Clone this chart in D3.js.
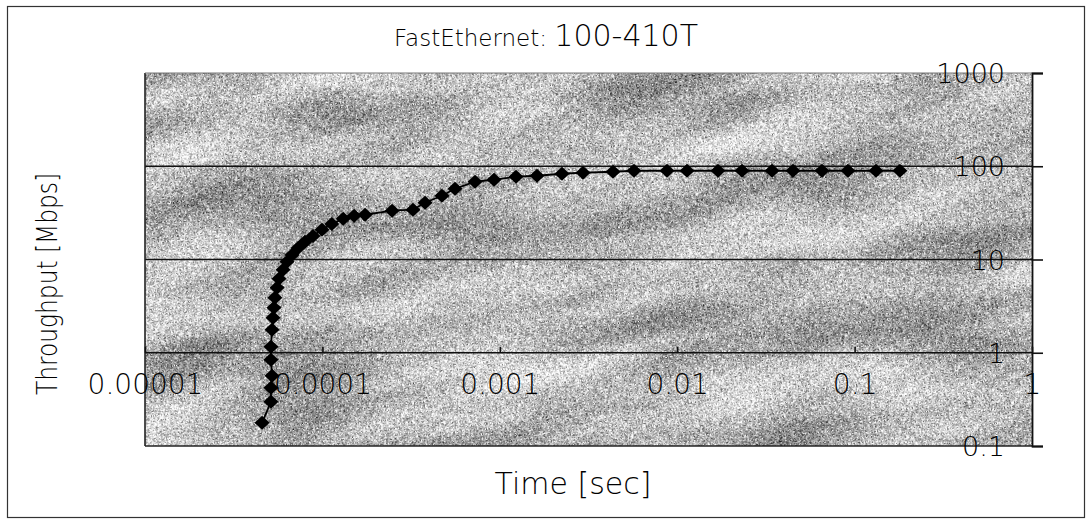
<!DOCTYPE html>
<html>
<head>
<meta charset="utf-8">
<script src="https://cdn.jsdelivr.net/npm/d3@7"></script>
<style>
  html, body { margin: 0; padding: 0; background: #fff; }
  svg { display: block; }
  text { font-family: "DejaVu Sans", "Liberation Sans", sans-serif; fill: #000; font-weight: 200; }
</style>
</head>
<body>
<svg id="chart" width="1091" height="525"></svg>
<script>
// Message transfer time vs. measured throughput, FastEthernet 100-410T
const timeSec = [
  4.57e-5, 5.13e-5, 5.13e-5, 5.20e-5, 5.13e-5, 5.13e-5, 5.20e-5, 5.27e-5,
  5.33e-5, 5.40e-5, 5.55e-5, 5.69e-5, 6.00e-5, 6.32e-5, 6.74e-5, 7.29e-5,
  7.98e-5, 8.85e-5, 9.95e-5, 1.13e-4, 1.31e-4, 1.51e-4, 1.74e-4, 2.47e-4,
  3.24e-4, 3.79e-4, 4.72e-4, 5.59e-4, 7.25e-4, 9.28e-4, 1.234e-3, 1.621e-3,
  2.242e-3, 2.944e-3, 4.346e-3, 5.708e-3, 8.76e-3, 1.136e-2, 1.698e-2, 2.319e-2,
  3.423e-2, 4.496e-2, 6.549e-2, 9.18e-2, 0.132, 0.180
];
const throughputMbps = [
  0.178, 0.298, 0.422, 0.567, 0.841, 1.16, 1.76, 2.37,
  3.04, 3.89, 4.97, 6.21, 7.76, 9.45, 11.2, 13.3,
  15.5, 17.9, 20.8, 24.1, 27.3, 29.4, 30.2, 33.4,
  34.2, 40.6, 48.3, 57.4, 68.2, 71.7, 77.2, 79.1,
  83.1, 85.2, 87.3, 89.5, 89.5, 89.5, 89.5, 89.5,
  89.5, 89.5, 89.5, 89.5, 89.5, 89.5
];
const xTicks = [1e-5, 1e-4, 1e-3, 1e-2, 1e-1, 1];
const xTickLabels = ["0.00001", "0.0001", "0.001", "0.01", "0.1", "1"];
const yTicks = [0.1, 1, 10, 100, 1000];
const yTickLabels = ["0.1", "1", "10", "100", "1000"];
const gridValues = [1, 10, 100];

const svg = d3.select("#chart");
const plot = { left: 145, right: 1032, top: 73, bottom: 446 };

const x = d3.scaleLog().domain([1e-5, 1]).range([plot.left, plot.right]);
const y = d3.scaleLog().domain([0.1, 1000]).range([plot.bottom, plot.top]);

const defs = svg.append("defs");

// grainy granite-like fill for the plot area
const f = defs.append("filter").attr("id", "granite")
  .attr("x", 0).attr("y", 0).attr("width", 1).attr("height", 1)
  .attr("filterUnits", "objectBoundingBox")
  .attr("color-interpolation-filters", "sRGB");
f.append("feTurbulence").attr("type", "fractalNoise")
  .attr("baseFrequency", "0.005 0.02").attr("numOctaves", 2).attr("seed", 7).attr("result", "lowRaw");
f.append("feColorMatrix").attr("in", "lowRaw").attr("type", "matrix")
  .attr("values", "1 0 0 0 0  1 0 0 0 0  1 0 0 0 0  0 0 0 0 1").attr("result", "low");
f.append("feTurbulence").attr("type", "fractalNoise")
  .attr("baseFrequency", "2.3").attr("numOctaves", 1).attr("seed", 3).attr("result", "fineRaw");
f.append("feColorMatrix").attr("in", "fineRaw").attr("type", "matrix")
  .attr("values", "0 1 0 0 0  0 1 0 0 0  0 1 0 0 0  0 0 0 0 1").attr("result", "fine");
f.append("feComposite").attr("in", "fine").attr("in2", "low").attr("operator", "arithmetic")
  .attr("k1", 0).attr("k2", 1.7).attr("k3", 0.75).attr("k4", -0.5).attr("result", "mix");
f.append("feColorMatrix").attr("in", "mix").attr("type", "matrix")
  .attr("values", "1 0 0 0 0  1 0 0 0 0  1 0 0 0 0  0 0 0 0 1");

defs.append("clipPath").attr("id", "plotClip")
  .append("rect")
  .attr("x", plot.left).attr("y", plot.top)
  .attr("width", plot.right - plot.left).attr("height", plot.bottom - plot.top);

// outer frame
svg.append("rect")
  .attr("x", 7.5).attr("y", 6.5).attr("width", 1077).attr("height", 511)
  .attr("fill", "none").attr("stroke", "#333").attr("stroke-width", 1.2);

// plot background texture (streaks slightly tilted)
const bg = svg.append("g").attr("clip-path", "url(#plotClip)");
bg.append("rect")
  .attr("x", plot.left - 200).attr("y", plot.top - 300)
  .attr("width", plot.right - plot.left + 400).attr("height", plot.bottom - plot.top + 600)
  .attr("transform", `rotate(-12, ${(plot.left + plot.right) / 2}, ${(plot.top + plot.bottom) / 2})`)
  .attr("filter", "url(#granite)");

// horizontal gridlines
svg.append("g").selectAll("line").data(gridValues).join("line")
  .attr("x1", plot.left).attr("x2", plot.right)
  .attr("y1", d => y(d)).attr("y2", d => y(d))
  .attr("stroke", "#111").attr("stroke-width", 1.6);

// plot border: left and bottom dark, top faint
svg.append("line").attr("x1", plot.left).attr("x2", plot.left)
  .attr("y1", plot.top).attr("y2", plot.bottom).attr("stroke", "#222").attr("stroke-width", 1.6);
svg.append("line").attr("x1", plot.left).attr("x2", plot.right)
  .attr("y1", plot.bottom).attr("y2", plot.bottom).attr("stroke", "#222").attr("stroke-width", 1.6);
svg.append("line").attr("x1", plot.left).attr("x2", plot.right)
  .attr("y1", plot.top).attr("y2", plot.top).attr("stroke", "#777").attr("stroke-width", 1);

const labelFont = "'DejaVu Sans', sans-serif";

// value axis on the right, labels drawn inside the plot
const yAxis = svg.append("g")
  .attr("transform", `translate(${plot.right},0)`)
  .call(d3.axisRight(y).tickValues(yTicks).tickSize(11)
    .tickFormat((d, i) => yTickLabels[i]));
yAxis.select(".domain").attr("stroke", "#111").attr("stroke-width", 1.8);
yAxis.selectAll(".tick line").attr("stroke", "#111").attr("stroke-width", 1.6);
yAxis.selectAll(".tick text")
  .attr("x", -27).attr("dy", "0.36em").attr("text-anchor", "end")
  .style("font-size", "27px").style("fill", "#000").style("font-weight", 200)
  .style("font-family", labelFont);

// time axis crossing at 1 Mbps, labels below the line
const xAxis = svg.append("g")
  .attr("transform", `translate(0,${y(1)})`)
  .call(d3.axisTop(x).tickValues(xTicks).tickSize(6)
    .tickFormat((d, i) => xTickLabels[i]));
xAxis.select(".domain").remove();
xAxis.selectAll(".tick line").attr("stroke", "#111").attr("stroke-width", 1.6);
xAxis.selectAll(".tick text")
  .attr("y", 31).attr("dy", "0.36em").attr("text-anchor", "middle")
  .style("font-size", "28px").style("fill", "#000").style("font-weight", 200)
  .style("font-family", labelFont);

// series line and diamond markers
const pts = timeSec.map((t, i) => [t, throughputMbps[i]]);
svg.append("path")
  .datum(pts)
  .attr("fill", "none").attr("stroke", "#000").attr("stroke-width", 1.8)
  .attr("d", d3.line().x(d => x(d[0])).y(d => y(d[1])));

svg.append("g").selectAll("path").data(pts).join("path")
  .attr("transform", d => `translate(${x(d[0])},${y(d[1])})`)
  .attr("d", "M0,-7L7.5,0L0,7L-7.5,0Z")
  .attr("fill", "#000");

// titles
const title = svg.append("text")
  .attr("x", 546).attr("y", 46).attr("text-anchor", "middle");
title.append("tspan").text("FastEthernet: ").style("font-size", "23px");
title.append("tspan").text("100-410T").style("font-size", "30px");

svg.append("text")
  .attr("x", 573).attr("y", 494).attr("text-anchor", "middle")
  .style("font-size", "30px")
  .text("Time [sec]");

svg.append("text")
  .attr("transform", "translate(57,284) rotate(-90)")
  .attr("text-anchor", "middle")
  .attr("textLength", 222).attr("lengthAdjust", "spacingAndGlyphs")
  .style("font-size", "28px")
  .text("Throughput [Mbps]");
</script>
</body>
</html>
